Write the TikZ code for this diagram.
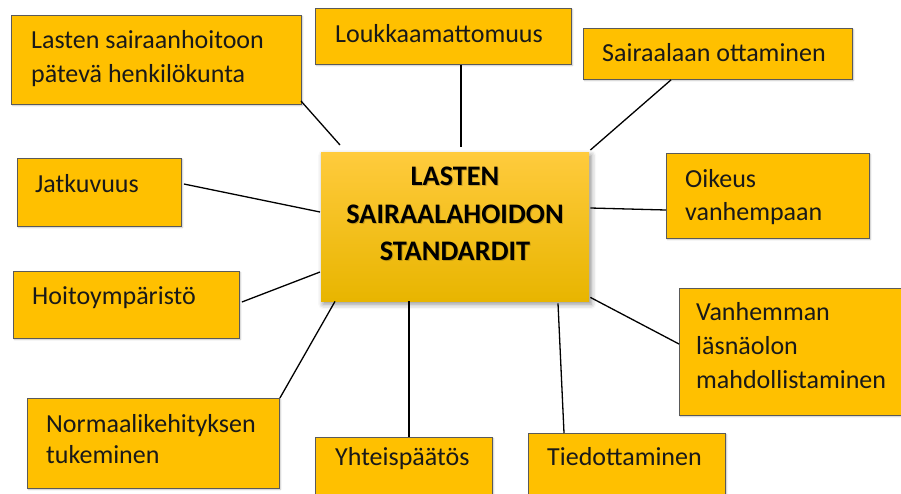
\documentclass[tikz,border=0pt]{standalone}
\usepackage{fontspec}
\setmainfont{Carlito}
\usetikzlibrary{calc,shadows.blur}
\definecolor{gold}{HTML}{FFC000}
\definecolor{goldtop}{HTML}{FFCB3D}
\definecolor{goldbot}{HTML}{E8B500}
\definecolor{edge}{HTML}{5A5A5A}
\tikzset{
  box/.style={draw=edge, line width=0.9pt, fill=gold, rectangle, anchor=north west, inner sep=0pt,
    blur shadow={shadow xshift=1pt, shadow yshift=-1pt, shadow blur radius=1.5pt, shadow opacity=25}},
  lbl/.style={anchor=base west, inner sep=0pt, font=\fontsize{26}{30}\selectfont, text=black!90},
  hdr/.style={anchor=base, inner sep=0pt, font=\bfseries\fontsize{28.3}{32}\selectfont, text=black},
  hdrshadow/.style={anchor=base, inner sep=0pt, font=\bfseries\fontsize{28.3}{32}\selectfont, text=black, opacity=0.18},
  link/.style={line width=1.3pt, black},
  mainbox/.style={rectangle, anchor=north west, inner sep=0pt, top color=goldtop, bottom color=goldbot,
    blur shadow={shadow xshift=2pt, shadow yshift=-3pt, shadow blur radius=5pt, shadow opacity=45}},
}
\begin{document}
\begin{tikzpicture}[x=1pt,y=-1pt]
\useasboundingbox (0,0) rectangle (901,493);
\clip (0,0) rectangle (901,493);

% boxes
\node[box, minimum width=290pt, minimum height=89pt] (n1) at (11,15) {};
\node[box, minimum width=256pt, minimum height=56pt] (n2) at (315,8) {};
\node[box, minimum width=269pt, minimum height=51pt] (n3) at (583,28) {};
\node[box, minimum width=203pt, minimum height=85pt] (n4) at (666,153) {};
\node[box, minimum width=230pt, minimum height=127pt] (n5) at (679,288) {};
\node[box, minimum width=197pt, minimum height=70pt] (n6) at (528,433) {};
\node[box, minimum width=177pt, minimum height=66pt] (n7) at (315,437) {};
\node[box, minimum width=252pt, minimum height=90pt] (n8) at (27,398) {};
\node[box, minimum width=226pt, minimum height=67pt] (n9) at (13,271) {};
\node[box, minimum width=164pt, minimum height=68pt] (n10) at (17,158) {};
\node[mainbox, minimum width=268pt, minimum height=149pt] (c) at (321,152) {};

% labels
\node[lbl] (t1a) at (31,48) {Lasten sairaanhoitoon};
\node[lbl] (t1b) at (31,82) {pätevä henkilökunta};
\node[lbl] (t2) at (335,42) {Loukkaamattomuus};
\node[lbl] (t3) at (602,61) {Sairaalaan ottaminen};
\node[lbl] (t4a) at (685,187) {Oikeus};
\node[lbl] (t4b) at (685,220) {vanhempaan};
\node[lbl] (t5a) at (696,320) {Vanhemman};
\node[lbl] (t5b) at (696,354) {läsnäolon};
\node[lbl] (t5c) at (696,388) {mahdollistaminen};
\node[lbl] (t6) at (547,465) {Tiedottaminen};
\node[lbl] (t7) at (335,465) {Yhteispäätös};
\node[lbl] (t8a) at (46,432) {Normaalikehityksen};
\node[lbl] (t8b) at (46,463) {tukeminen};
\node[lbl] (t9) at (32,304) {Hoitoympäristö};
\node[lbl] (t10) at (35,192) {Jatkuvuus};

\node[hdrshadow] (hs1) at (456,186) {LASTEN};
\node[hdrshadow] (hs2) at (456,224) {SAIRAALAHOIDON};
\node[hdrshadow] (hs3) at (456,261) {STANDARDIT};
\node[hdr] (h1) at (455,185) {LASTEN};
\node[hdr] (h2) at (455,223) {SAIRAALAHOIDON};
\node[hdr] (h3) at (455,260) {STANDARDIT};

% connectors
\draw[link] ($(n1.south east)+(-1,-4)$) -- ($(c.north west)+(19,-7)$);
\draw[link] ($(n2.south west)+(146,0)$) -- ($(c.north west)+(140,-5)$);
\draw[link] ($(n3.south west)+(88,0)$) -- ($(c.north east)+(1,-2)$);
\draw[link] ($(c.north east)+(1,56)$) -- ($(n4.north west)+(0,57)$);
\draw[link] ($(c.south east)+(1,-4)$) -- ($(n5.north west)+(0,56)$);
\draw[link] ($(c.south west)+(237,2)$) -- ($(n6.north west)+(36,0)$);
\draw[link] ($(c.south west)+(88,0)$) -- ($(n7.north west)+(94,0)$);
\draw[link] ($(c.south west)+(14,0)$) -- (n8.north east);
\draw[link] ($(n9.north east)+(2,31)$) -- ($(c.north west)+(-1,120)$);
\draw[link] ($(n10.north east)+(2,26)$) -- ($(c.north west)+(-1,60)$);
\end{tikzpicture}
\end{document}
